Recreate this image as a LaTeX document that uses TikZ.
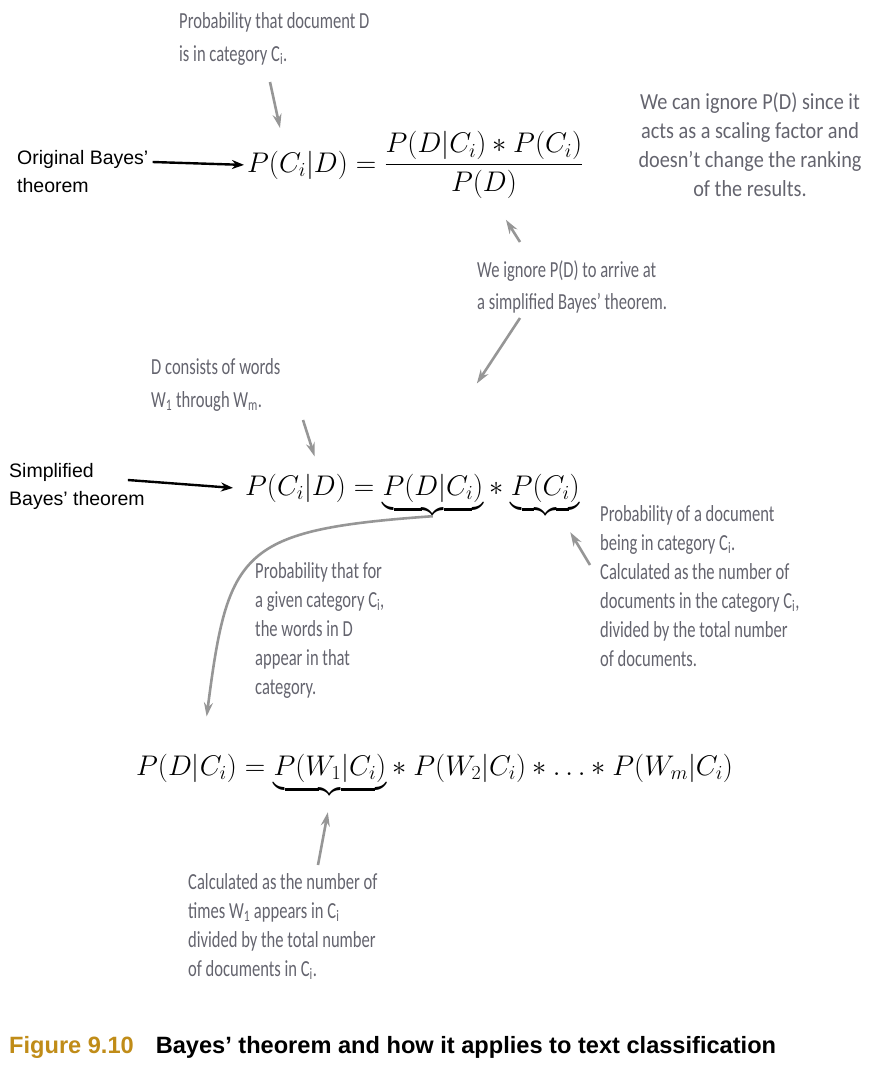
\RequirePackage{fix-cm}
\documentclass[tikz,border=0pt]{standalone}
\usepackage{amsmath}
\usepackage{fontspec}
\usepackage{tikz}
\usetikzlibrary{arrows.meta,positioning}
\newfontfamily\handfont[FakeStretch=0.72]{Carlito}
\newfontfamily\handwide[FakeStretch=0.88]{Carlito}
\newfontfamily\labelfont{Liberation Sans}
\definecolor{notegray}{RGB}{100,100,110}
\definecolor{arrowgray}{RGB}{150,150,150}
\definecolor{figgold}{RGB}{192,140,24}
\newcommand{\bracegap}{\rule[-10pt]{0pt}{10pt}}
\tikzset{
  note/.style={font=\handfont\fontsize{23}{29}\selectfont, text=notegray, align=left, inner sep=0pt},
  lbl/.style={font=\labelfont\fontsize{19.5}{28}\selectfont, align=left, inner sep=0pt},
  eq/.style={font=\fontsize{28.4}{32}\selectfont, inner sep=0pt},
  ptr/.style={draw=arrowgray, line width=2.6pt, -{Stealth[length=14pt,width=9pt]}},
  blk/.style={line width=2.4pt, -{Stealth[length=12pt,width=9pt]}}
}
\begin{document}
\begin{tikzpicture}[x=1pt,y=-1pt]
  \useasboundingbox (0,0) rectangle (872,1074);
  \node[note, anchor=north west] (docD) at (179,12) {Probability that document D\\[4pt]is in category C\textsubscript{i}.};
  \node[note, font=\handwide\fontsize{23}{29}\selectfont, anchor=north, align=center] (scale) at (750,92) {We can ignore P(D) since it\\acts as a scaling factor and\\doesn’t change the ranking\\of the results.};
  \node[lbl, anchor=north west] (orig) at (17,150) {Original Bayes’\\theorem};
  \node[eq, anchor=base west] (lhs1) at (247,172) {$P(C_i|D)={}$};
  \node[eq, anchor=base west] (frac1) at (lhs1.base east) {$\dfrac{P(D|C_i)\ast P(C_i)}{P(D)}$};
  \node[note, anchor=north west] (ignore) at (477,260) {We ignore P(D) to arrive at\\[3pt]a simplified Bayes’ theorem.};
  \node[note, anchor=north west] (words) at (151,358) {D consists of words\\[4pt]W\textsubscript{1} through W\textsubscript{m}.};
  \node[lbl, anchor=north west] (simp) at (9,463) {Simplified\\Bayes’ theorem};
  \node[eq, anchor=base west] (lhs2) at (245,495) {$P(C_i|D)={}$};
  \node[eq, anchor=base west] (like) at (lhs2.base east) {$\underbrace{P(D|C_i)\bracegap}$};
  \node[eq, anchor=base west] (times) at (like.base east) {${}\ast{}$};
  \node[eq, anchor=base west] (prior) at (times.base east) {$\underbrace{P(C_i)\bracegap}$};
  \node[note, anchor=north west] (given) at (255,562) {Probability that for\\a given category C\textsubscript{i},\\the words in D\\appear in that\\category.};
  \node[note, anchor=north west] (prob) at (600,505) {Probability of a document\\being in category C\textsubscript{i}.\\Calculated as the number of\\documents in the category C\textsubscript{i},\\divided by the total number\\of documents.};
  \node[eq, anchor=base west] (lhs3) at (136,775) {$P(D|C_i)={}$};
  \node[eq, anchor=base west] (word1) at (lhs3.base east) {$\underbrace{P(W_1|C_i)\bracegap}$};
  \node[eq, anchor=base west] (rest) at (word1.base east) {${}\ast P(W_2|C_i)\ast\ldots\ast P(W_m|C_i)$};
  \node[note, anchor=north west] (count) at (188,873) {Calculated as the number of\\times W\textsubscript{1} appears in C\textsubscript{i}\\divided by the total number\\of documents in C\textsubscript{i}.};
  \node[anchor=west, inner sep=0pt, font=\labelfont\bfseries\fontsize{23.6}{26}\selectfont] (fig) at (9,1047) {\textcolor{figgold}{Figure 9.10}\hspace{22pt}Bayes’ theorem and how it applies to text classification};
  \draw[blk] ([shift={(4,12)}]orig.north east) -- ([xshift=-3pt]lhs1.west);
  \draw[blk] ([shift={(-17,17)}]simp.north east) -- ([xshift=-12pt]lhs2.west);
  \draw[ptr] ([shift={(91,70)}]docD.north west) -- ([shift={(33,-44)}]lhs1.base west);
  \draw[ptr] ([shift={(43,-18)}]ignore.north west) -- ([shift={(22,21)}]frac1.south);
  \draw[ptr] ([shift={(43,58)}]ignore.north west) -- ([shift={(44,-90)}]like.north);
  \draw[ptr] ([shift={(152,62)}]words.north west) -- ([shift={(1,-17)}]lhs2.north);
  \draw[ptr] ([yshift=-2pt]like.south) .. controls (240,530) and (228,550) .. ([shift={(2,-37)}]lhs3.north);
  \draw[ptr] ([shift={(-10,60)}]prob.north west) -- ([shift={(25,18)}]prior.south);
  \draw[ptr] ([shift={(130,-8)}]count.north west) -- ([shift={(-2,18)}]word1.south);
\end{tikzpicture}
\end{document}
